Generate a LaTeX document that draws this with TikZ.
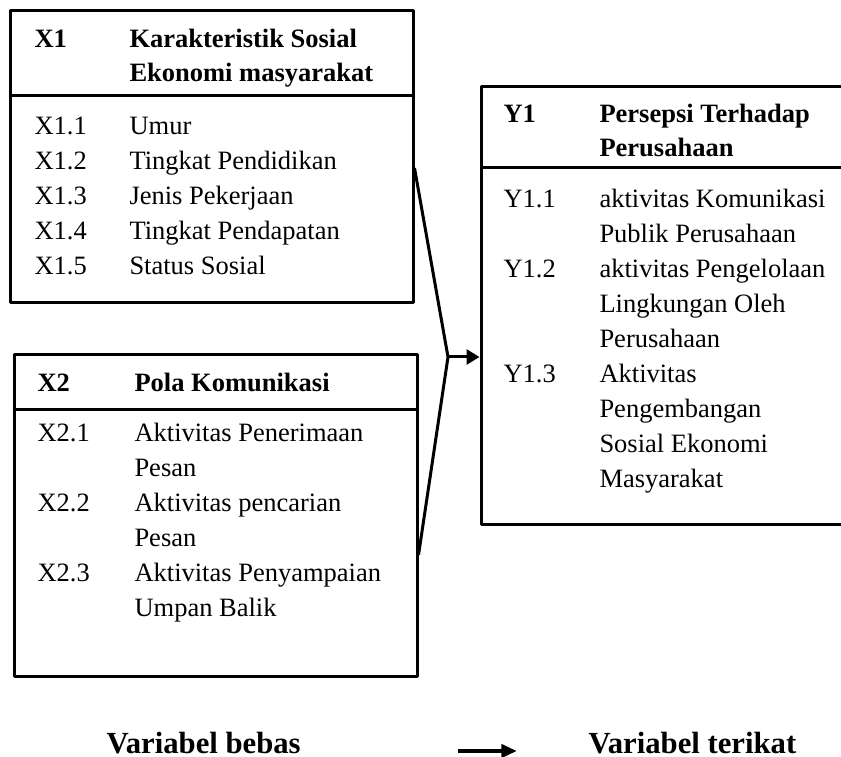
\documentclass[tikz,border=0pt]{standalone}
\usepackage{fontspec}
\setmainfont{Liberation Serif}
\usetikzlibrary{arrows.meta}

\begin{document}
\begin{tikzpicture}[>={Triangle[length=6.5bp,width=7.5bp]},line join=bevel,line width=1.5bp,
  box/.style={draw,rectangle,inner sep=0pt},
  txt/.style={anchor=base west,inner sep=0pt,font=\fontsize{13.25bp}{16bp}\selectfont},
  head/.style={txt,font=\fontsize{13.25bp}{16bp}\selectfont\bfseries},
  legend/.style={anchor=base west,inner sep=0pt,font=\fontsize{15.35bp}{18bp}\selectfont\bfseries}]
\useasboundingbox (0bp,0bp) rectangle (420.5bp,378.5bp);
\clip (0bp,0bp) rectangle (420.5bp,378.5bp);
%% boxes
\node (x1box) at (105.75bp,300bp) [box,minimum width=201.5bp,minimum height=146bp] {};
\node (x2box) at (107.75bp,120.5bp) [box,minimum width=201.5bp,minimum height=161bp] {};
\node (y1box) at (335.25bp,225.5bp) [box,minimum width=189.5bp,minimum height=219bp] {};
\draw (x1box.west |- 0bp,330.5bp) -- (x1box.east |- 0bp,330.5bp);
\draw (x2box.west |- 0bp,173.5bp) -- (x2box.east |- 0bp,173.5bp);
\draw (y1box.west |- 0bp,294.5bp) -- (y1box.east |- 0bp,294.5bp);
%% X1
\node (x1) at (16.5bp,354.5bp) [head] {X1};
\node (x1a) at (64bp,354.5bp) [head] {Karakteristik Sosial};
\node (x1b) at (64bp,337.5bp) [head] {Ekonomi masyarakat};
\node (x11) at (16.5bp,311bp) [txt] {X1.1};
\node (x11t) at (64bp,311bp) [txt] {Umur};
\node (x12) at (16.5bp,293.5bp) [txt] {X1.2};
\node (x12t) at (64bp,293.5bp) [txt] {Tingkat Pendidikan};
\node (x13) at (16.5bp,276bp) [txt] {X1.3};
\node (x13t) at (64bp,276bp) [txt] {Jenis Pekerjaan};
\node (x14) at (16.5bp,258.5bp) [txt] {X1.4};
\node (x14t) at (64bp,258.5bp) [txt] {Tingkat Pendapatan};
\node (x15) at (16.5bp,241bp) [txt] {X1.5};
\node (x15t) at (64bp,241bp) [txt] {Status Sosial};
%% X2
\node (x2) at (18bp,182.5bp) [head] {X2};
\node (x2a) at (66.5bp,182.5bp) [head] {Pola Komunikasi};
\node (x21) at (18bp,157.5bp) [txt] {X2.1};
\node (x21t) at (66.5bp,157.5bp) [txt] {Aktivitas Penerimaan};
\node (x21u) at (66.5bp,140bp) [txt] {Pesan};
\node (x22) at (18bp,122.5bp) [txt] {X2.2};
\node (x22t) at (66.5bp,122.5bp) [txt] {Aktivitas pencarian};
\node (x22u) at (66.5bp,105bp) [txt] {Pesan};
\node (x23) at (18bp,87.5bp) [txt] {X2.3};
\node (x23t) at (66.5bp,87.5bp) [txt] {Aktivitas Penyampaian};
\node (x23u) at (66.5bp,70bp) [txt] {Umpan Balik};
%% Y1
\node (y1) at (251bp,317bp) [head] {Y1};
\node (y1a) at (299bp,317bp) [head] {Persepsi Terhadap};
\node (y1b) at (299bp,300bp) [head] {Perusahaan};
\node (y11) at (251bp,274.5bp) [txt] {Y1.1};
\node (y11t) at (299bp,274.5bp) [txt] {aktivitas Komunikasi};
\node (y11u) at (299bp,257bp) [txt] {Publik Perusahaan};
\node (y12) at (251bp,239.5bp) [txt] {Y1.2};
\node (y12t) at (299bp,239.5bp) [txt] {aktivitas Pengelolaan};
\node (y12u) at (299bp,222bp) [txt] {Lingkungan Oleh};
\node (y12v) at (299bp,204.5bp) [txt] {Perusahaan};
\node (y13) at (251bp,187bp) [txt] {Y1.3};
\node (y13t) at (299bp,187bp) [txt] {Aktivitas};
\node (y13u) at (299bp,169.5bp) [txt] {Pengembangan};
\node (y13v) at (299bp,152bp) [txt] {Sosial Ekonomi};
\node (y13w) at (299bp,134.5bp) [txt] {Masyarakat};
%% connectors
\coordinate (j) at (224bp,200bp);
\draw (x1box.east |- 0bp,294.5bp) -- (j) -- (x2box.east |- 0bp,101bp);
\draw [->] (j) -- (y1box.west |- j);
%% legend
\node (bebas) at (52.5bp,2bp) [legend] {Variabel bebas};
\node (terikat) at (293.5bp,2bp) [legend] {Variabel terikat};
\coordinate (la) at (229bp,3bp);
\coordinate (lb) at (258.5bp,3bp);
\draw [-{Triangle[length=7.8bp,width=6.5bp]},line width=2bp] (la) -- (lb);
%
\end{tikzpicture}
\end{document}
